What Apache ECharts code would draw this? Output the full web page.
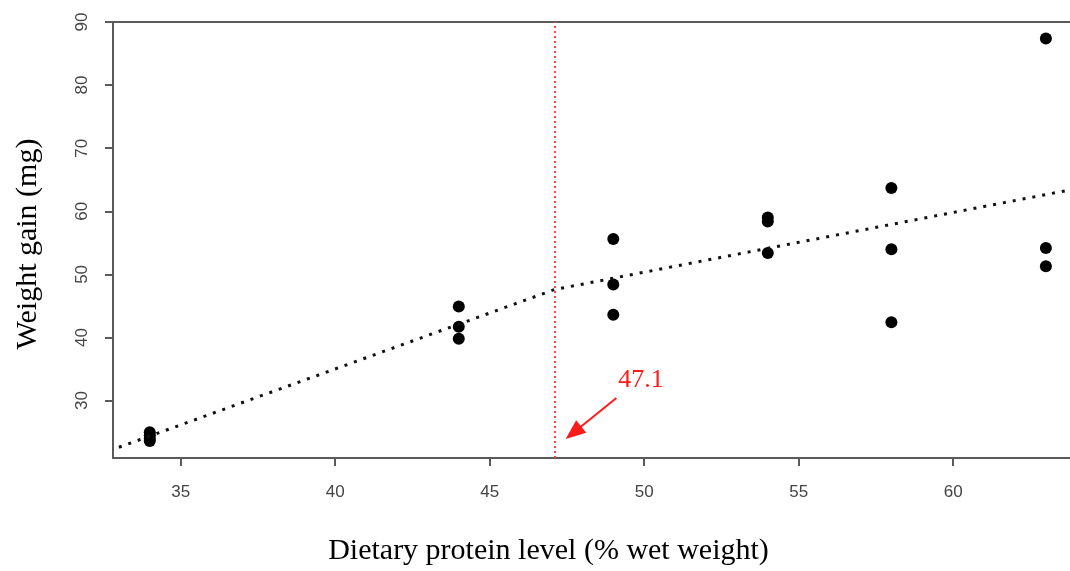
<!DOCTYPE html>
<html>
<head>
<meta charset="utf-8">
<script src="https://cdn.jsdelivr.net/npm/echarts@6/dist/echarts.min.js"></script>
<style>
  html, body { margin: 0; padding: 0; background: #fff; }
  #main { width: 1070px; height: 571px; }
</style>
</head>
<body>
<div id="main"></div>
<script>
// protein levels and measured weight gain (mg)
var proteinLevels = [34, 34, 34, 34, 44, 44, 44, 49, 49, 49, 54, 54, 54, 58, 58, 58, 63, 63, 63];
var weightGain = [25.0, 24.5, 24.0, 23.6, 44.9, 41.7, 39.8, 55.6, 48.4, 43.6, 59.0, 58.4, 53.4, 63.7, 54.0, 42.4, 87.4, 54.2, 51.3];

// broken-line fit, breakpoint at 47.1
var fitX = [33, 47.1, 64];
var fitY = [22.6, 47.6, 63.6];
var breakPoint = 47.1;

var xTicks = [35, 40, 45, 50, 55, 60];
var yTicks = [30, 40, 50, 60, 70, 80, 90];

var points = [];
for (var i = 0; i < proteinLevels.length; i++) {
  points.push([proteinLevels[i], weightGain[i]]);
}
var fitLine = [];
for (var j = 0; j < fitX.length; j++) {
  fitLine.push([fitX[j], fitY[j]]);
}

var axisColor = '#5a5a5a';
var serif = 'Liberation Serif, Times New Roman, serif';
var sans = 'Liberation Sans, Arial, sans-serif';

var chart = echarts.init(document.getElementById('main'));
chart.setOption({
  animation: false,
  grid: { left: 113, top: 22, right: 0, bottom: 111 },
  xAxis: [{
    type: 'value',
    min: 32.81, max: 63.78,
    splitLine: { show: false },
    axisLine: { show: true, lineStyle: { color: axisColor, width: 2 } },
    axisTick: { show: true, length: 8, customValues: xTicks, lineStyle: { color: axisColor, width: 2 } },
    axisLabel: { customValues: xTicks, margin: 26, color: '#444', fontSize: 17, fontFamily: sans },
    name: 'Dietary protein level (% wet weight)',
    nameLocation: 'middle', nameGap: 78,
    nameTextStyle: { color: '#000', fontSize: 30, fontFamily: serif, padding: [0, 0, 0, -86] }
  }, {
    // top frame line
    type: 'value', position: 'top',
    min: 32.81, max: 63.78,
    splitLine: { show: false },
    axisLine: { show: true, lineStyle: { color: axisColor, width: 2 } },
    axisTick: { show: false },
    axisLabel: { show: false }
  }],
  yAxis: {
    type: 'value',
    min: 20.9, max: 90,
    splitLine: { show: false },
    axisLine: { show: true, lineStyle: { color: axisColor, width: 2 } },
    axisTick: { show: true, length: 8, customValues: yTicks, lineStyle: { color: axisColor, width: 2 } },
    axisLabel: { customValues: yTicks, rotate: 90, margin: 22, color: '#444', fontSize: 17, fontFamily: sans },
    name: 'Weight gain (mg)',
    nameLocation: 'middle', nameGap: 70,
    nameTextStyle: { color: '#000', fontSize: 30, fontFamily: serif, padding: [0, 0, 0, -8] }
  },
  series: [
    {
      name: 'fit',
      type: 'line',
      data: fitLine,
      symbol: 'none',
      lineStyle: { color: '#111', width: 3, type: [3, 7] },
      markLine: {
        silent: true,
        symbol: 'none',
        label: { show: false },
        lineStyle: { color: '#ff4040', width: 2, type: [2, 3] },
        data: [{ xAxis: breakPoint }]
      }
    },
    {
      name: 'arrow',
      type: 'line',
      data: [],
      markLine: {
        silent: true,
        symbol: ['none', 'triangle'],
        symbolSize: [16, 20],
        label: { show: false },
        lineStyle: { color: '#ff1a1a', width: 2, type: 'solid' },
        data: [[{ coord: [49.1, 30.4] }, { coord: [47.71, 24.9] }]]
      },
      markPoint: {
        silent: true,
        symbol: 'circle',
        symbolSize: 0,
        label: { show: true, formatter: '47.1', color: '#ff1a1a', fontSize: 26, fontFamily: serif },
        data: [{ coord: [49.9, 33.2] }]
      }
    },
    {
      name: 'weight gain',
      type: 'scatter',
      data: points,
      symbol: 'circle',
      symbolSize: 12,
      itemStyle: { color: '#000', opacity: 1 }
    }
  ]
});
window.onresize = chart.resize;
</script>
</body>
</html>
